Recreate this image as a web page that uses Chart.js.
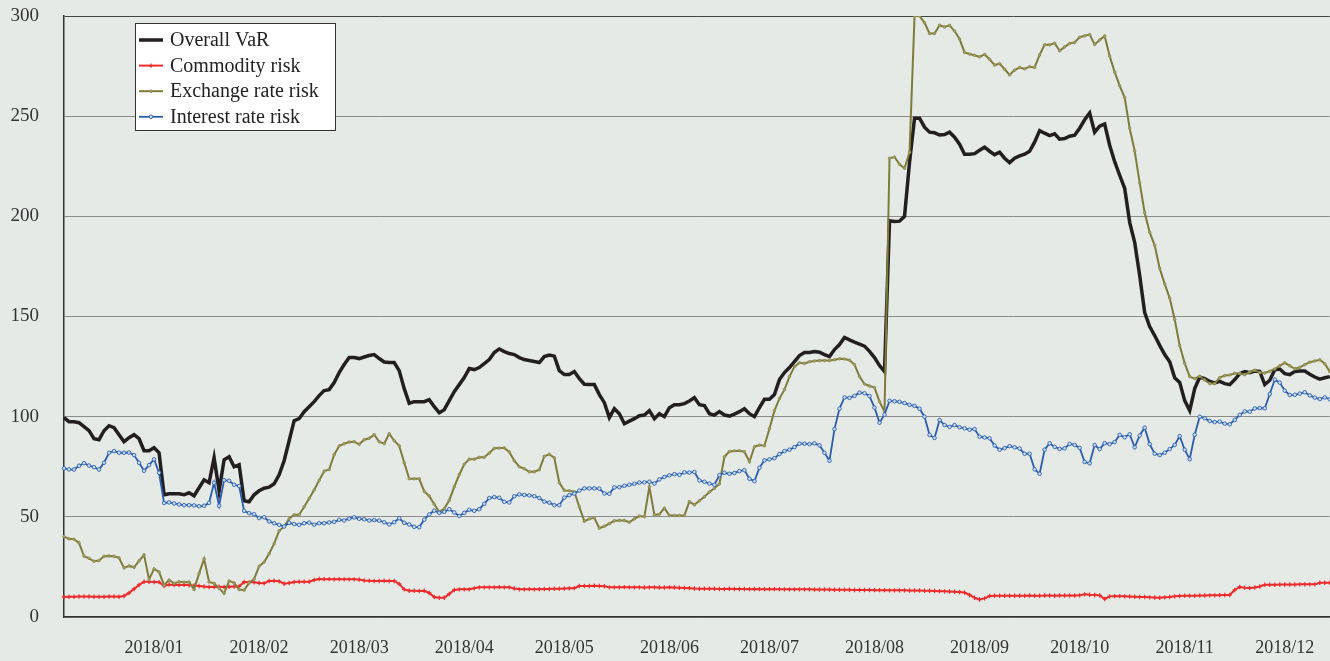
<!DOCTYPE html>
<html>
<head>
<meta charset="utf-8">
<title>VaR</title>
<script src="https://cdn.jsdelivr.net/npm/chart.js@4.4.1/dist/chart.umd.min.js"></script>
<style>
    html, body { margin: 0; padding: 0; background: #e5eae7; overflow: hidden; }
    /* a few px wider than the window: Chart.js keeps a small gap on the right */
    #wrap { position: relative; width: 1335px; height: 661px; }
</style>
</head>
<body>
<div id="wrap"><canvas id="varChart"></canvas></div>
<script>
// --- Data (daily, mid-Dec 2017 .. end of Dec 2018) ---
const monthLabels = ['2018/01', '2018/02', '2018/03', '2018/04', '2018/05', '2018/06',
                     '2018/07', '2018/08', '2018/09', '2018/10', '2018/11', '2018/12'];
// index of the point each month label sits under
const monthIndex = [18, 39, 59, 80, 100, 121, 141, 162, 183, 203, 224, 244];

const overallVaR = [
    99.5, 97.5, 97.5, 97, 95, 93, 89, 88.5, 93, 95.5,
    94.5, 91, 87.5, 89.5, 91, 89, 83, 83, 84.5, 82,
    61, 61.5, 61.5, 61.5, 61, 62, 60.5, 64.5, 68.5, 67,
    79.5, 63, 78.5, 80, 75, 76, 58, 57.5, 61, 63,
    64.3, 64.8, 66.5, 71, 78, 88, 98, 99, 102.5, 105,
    107.5, 110.5, 113, 113.5, 117, 122, 126, 129.5, 129.5, 129,
    129.8, 130.5, 131, 129, 127.3, 127, 127, 123, 114, 106.7,
    107.5, 107.5, 107.5, 108.5, 105, 102, 103.5, 108, 112.5, 116,
    119.5, 124, 123.5, 124.5, 126.5, 128.5, 132, 133.8, 132.5, 131.5,
    131, 129.5, 128.5, 128, 127.5, 127, 130, 130.8, 130.2, 123,
    121, 121, 122.5, 119, 116.2, 116, 116, 111, 107, 99.5,
    104, 101.5, 96.5, 97.8, 99, 100.5, 100.8, 103, 99, 101.5,
    100, 104.5, 106, 106, 106.5, 107.8, 109.5, 106, 105.5, 101.5,
    100.8, 102.5, 100.8, 100.3, 101.3, 102.5, 104, 101.5, 100, 104.5,
    108.7, 108.7, 111, 118.5, 122, 124.5, 127.5, 130.5, 132, 132,
    132.5, 132.2, 131, 130, 133.5, 136, 139.5, 138.3, 137.2, 136.2,
    135.2, 132.6, 129.5, 125.5, 122.5, 197.8, 197.4, 197.6, 200, 227,
    249, 249, 244.5, 242, 241.7, 240.6, 240.8, 242, 239.5, 236,
    231, 231, 231.3, 233, 234.5, 232.5, 230.8, 232, 229, 226.8,
    229, 230.2, 231, 232.5, 237, 242.8, 241.5, 240.3, 241.2, 238.5,
    238.8, 240, 240.5, 244, 248.2, 251.6, 242, 245, 246.1, 235.5,
    227.3, 220.5, 214, 197, 187, 170.5, 152, 145, 140.5, 135.6,
    131, 127.4, 119.4, 117.1, 108, 103, 114, 119.7, 119, 117.6,
    116.9, 117.6, 116.5, 116, 118.5, 121.5, 122.5, 122, 122.8, 122.6,
    116, 118.2, 123.4, 123.8, 121.5, 121, 122.5, 122.8, 122.8, 121.2,
    119.8, 118.7, 119.4, 120
];

const commodityRisk = [
    10, 10.1, 10.1, 10.2, 10.2, 10.2, 10.1, 10.1, 10.1, 10.2,
    10.2, 10.1, 10.5, 12, 14, 16, 17.6, 17.6, 17.5, 17.4,
    15.5, 16.2, 16, 16, 16.1, 15.8, 15.7, 15.5, 15.2, 15,
    15, 15.1, 15, 15.1, 15.2, 15.3, 17.5, 17.3, 17.3, 17,
    16.8, 18, 18.1, 17.8, 16.6, 17, 17.5, 17.6, 17.6, 17.6,
    18.5, 19, 18.9, 18.9, 18.8, 18.9, 18.8, 18.8, 18.8, 18.7,
    18.2, 18.1, 18, 18, 18.1, 18, 18, 16.5, 13.8, 13.1,
    13.1, 13, 13.1, 12, 10, 9.6, 9.6, 11.5, 13.5, 13.8,
    13.8, 13.8, 14.3, 14.8, 14.8, 14.8, 14.8, 14.9, 14.8, 14.8,
    14.2, 13.8, 13.8, 13.9, 13.8, 13.9, 14, 14, 14.1, 14.1,
    14.2, 14.3, 14.4, 15.5, 15.5, 15.5, 15.6, 15.5, 15.4, 14.8,
    14.8, 14.8, 14.9, 14.8, 14.8, 14.8, 14.7, 14.8, 14.8, 14.7,
    14.7, 14.8, 14.7, 14.6, 14.5, 14.4, 14.2, 14.1, 14.1, 14.1,
    14.1, 14, 14, 14.1, 14, 14, 14, 13.9, 14, 13.9,
    13.9, 13.9, 13.9, 13.9, 13.8, 13.8, 13.8, 13.8, 13.8, 13.8,
    13.7, 13.7, 13.7, 13.7, 13.6, 13.6, 13.6, 13.6, 13.5, 13.5,
    13.5, 13.5, 13.4, 13.4, 13.4, 13.3, 13.3, 13.3, 13.3, 13.2,
    13.2, 13.2, 13.1, 13.1, 13, 12.9, 12.8, 12.7, 12.6, 12.5,
    12.2, 11, 9.6, 8.7, 9.3, 10.5, 10.6, 10.6, 10.6, 10.6,
    10.6, 10.6, 10.6, 10.7, 10.6, 10.6, 10.7, 10.7, 10.6, 10.7,
    10.7, 10.7, 10.7, 10.8, 11.3, 11.1, 11, 10.8, 9, 10.3,
    10.4, 10.4, 10.3, 10.2, 10.1, 10, 10, 9.8, 9.7, 9.6,
    9.8, 10, 10.3, 10.5, 10.6, 10.6, 10.6, 10.7, 10.7, 10.8,
    10.8, 10.9, 11, 11, 13.5, 15, 14.6, 14.5, 14.7, 15.2,
    16.1, 16.1, 16.1, 16.2, 16.2, 16.2, 16.2, 16.3, 16.3, 16.3,
    16.3, 17.1, 17.1, 17.1
];

const exchangeRateRisk = [
    40.1, 39, 38.8, 37, 30.4, 29.3, 27.8, 28.2, 30.3, 30.5,
    30.3, 29.5, 24.5, 25.5, 24.8, 28, 31, 18.8, 24, 22.5,
    15.9, 18.5, 16.8, 17.6, 17.4, 17.5, 13.8, 21.8, 29, 17.5,
    16.8, 14.3, 11.8, 18, 17, 13.7, 13.4, 17, 19, 25.3,
    27.4, 31.6, 36.6, 43, 45.1, 49, 51, 51, 55, 59.2,
    63.4, 68.2, 72.8, 73.6, 81, 85.4, 86.5, 87.3, 87.5, 86.2,
    88.5, 89.2, 91, 87.5, 86.5, 91.5, 88, 85.5, 77, 69,
    69, 69, 62.7, 60.4, 56.3, 52.5, 54, 58.3, 65, 71,
    76.2, 78.8, 78.8, 79.7, 79.7, 81.8, 84.2, 84.3, 84.4, 82.4,
    78, 75, 74, 72.5, 72.5, 73.5, 80.2, 81.2, 79.5, 67,
    63.2, 63, 62.5, 55, 47.8, 49, 49.5, 44.3, 45.3, 46.6,
    48, 48.2, 48.2, 47.3, 49, 50.4, 50.1, 65, 51, 51.3,
    54.3, 50.7, 50.7, 50.7, 50.7, 57.6, 56, 58, 60, 62.4,
    64.3, 66.4, 80, 82.6, 82.9, 83, 82.5, 77.5, 85, 85.8,
    85.5, 94, 103, 109, 113.5, 120, 125, 126.9, 126.6, 127.4,
    127.8, 128, 128, 128, 128.4, 128.9, 128.8, 128.2, 126, 120,
    116.3, 115.3, 114.5, 107.5, 102.5, 229, 229.6, 226, 224, 232,
    300, 300, 296.6, 291.3, 291.3, 295.4, 294.5, 295.3, 292.5, 288.5,
    281.8, 281, 280.4, 279.6, 280.8, 278.4, 275.5, 276.2, 273.4, 270.6,
    273, 274.3, 273.6, 274.7, 274.3, 280.6, 285.6, 285.6, 286.4, 282.6,
    284.6, 286.3, 286.8, 289.4, 290.1, 290.7, 285.8, 288, 290, 280,
    272, 265.2, 259.3, 244, 232.7, 216.7, 201.8, 192, 185.5, 174,
    166.3, 159.2, 148.5, 135.5, 126.6, 120, 119, 120.2, 118.3, 116.5,
    116.5, 119.5, 120.5, 120.8, 121.7, 121.6, 121, 122.3, 123.2, 122,
    121.8, 122.7, 123.8, 125.4, 126.9, 125.4, 123.9, 124.6, 126, 127.2,
    127.8, 128.4, 126.4, 122.5
];

const interestRateRisk = [
    74.2, 73.7, 73.6, 75.5, 76.8, 75.6, 74.8, 73.6, 77, 82,
    82.8, 82, 82, 82.1, 80.8, 77, 73, 75.8, 78.7, 72,
    56.9, 57.2, 56.7, 56.2, 55.8, 55.8, 55.7, 55.3, 55.5, 57,
    67, 55.5, 68.3, 68, 66, 65.4, 53, 51.8, 51.3, 49.4,
    49.8, 47.7, 46.8, 46, 45.2, 47, 46.4, 46, 46.8, 47.1,
    46.1, 46.8, 46.8, 47.2, 47.5, 48.5, 48.2, 49.1, 49.7, 49,
    48.8, 48.2, 48.4, 48.1, 47.3, 46.2, 47.3, 49.3, 47, 46.2,
    45, 44.8, 48.6, 51.2, 53.1, 52, 52.5, 53.8, 52.2, 50.4,
    52, 53.5, 53, 53.8, 56.5, 59.4, 59.9, 59.5, 57.5, 57.2,
    60.3, 61.2, 60.9, 60.7, 60.3, 59.4, 57.6, 57.1, 55.8, 55.8,
    59.6, 60.8, 61.6, 63.1, 64.2, 64.2, 64.2, 64.1, 61.7, 61.5,
    64.7, 64.8, 65.5, 66, 66.5, 67.1, 67.2, 67.5, 66.6, 68.7,
    69.9, 70.7, 71.3, 71, 72.2, 72.1, 72.4, 68.2, 67.5, 66.6,
    66, 70.8, 72, 71.5, 71.9, 72.8, 73.3, 69, 67.8, 74.5,
    78.2, 78.7, 79.3, 81.3, 82.8, 83.5, 84.8, 86.5, 86.5, 86.3,
    86.7, 85.7, 82, 78, 93.8, 104, 109.6, 109.4, 110.4, 112,
    111.7, 110.3, 104.5, 97, 101, 107.9, 107.7, 107.4, 106.8, 105.9,
    105.4, 104, 100, 90.9, 89.4, 98.3, 95.8, 94.9, 95.8, 94.7,
    94.2, 93.5, 93.8, 90, 89.6, 89.2, 85.6, 83.5, 84.3, 85.3,
    84.7, 84.1, 81.5, 81.5, 73.7, 71.5, 83.5, 86.7, 84.9, 83.9,
    84.2, 86.4, 85.9, 84.4, 77.4, 76.7, 85.8, 83.8, 86.8, 86.3,
    87.3, 90.9, 89.7, 91.2, 84.7, 90.6, 94.5, 86.3, 81.5, 80.8,
    82, 83.8, 85.9, 90.3, 83.5, 78.8, 91, 100, 99.2, 97.8,
    97.3, 97.5, 96.5, 96.2, 98.4, 100.9, 102.6, 102.5, 104.1, 104.3,
    104.2, 111.3, 118.5, 117, 113, 110.8, 110.9, 111.5, 112.2, 110.6,
    109.5, 108.8, 109.6, 108.7
];

const yMin = 0, yMax = 300, yStep = 50;

document.addEventListener('DOMContentLoaded', function () {
    const serif = "'Liberation Serif', 'Times New Roman', serif";

    // one label per point, text only under the month positions
    const labels = overallVaR.map((_, i) => {
        const k = monthIndex.indexOf(i);
        return k >= 0 ? monthLabels[k] : '';
    });

    // --- legend box drawn on top of the plot ---
    const legendBox = {
        id: 'legendBox',
        afterDraw(chart) {
            const ctx = chart.ctx;
            const x0 = 135.5, y0 = 23.5, w = 200, h = 107;
            ctx.save();
            ctx.fillStyle = '#ffffff';
            ctx.fillRect(x0, y0, w, h);
            ctx.strokeStyle = '#333';
            ctx.lineWidth = 1;
            ctx.strokeRect(x0, y0, w, h);

            chart.data.datasets.forEach((ds, i) => {
                const y = 40 + i * 25.6;
                ctx.strokeStyle = ds.borderColor;
                ctx.lineWidth = ds.borderWidth;
                ctx.beginPath();
                ctx.moveTo(139, y);
                ctx.lineTo(163, y);
                ctx.stroke();
                if (ds.pointRadius > 0) {
                    ctx.fillStyle = ds.pointBackgroundColor;
                    ctx.strokeStyle = ds.pointBorderColor;
                    ctx.lineWidth = ds.pointBorderWidth;
                    Chart.helpers.drawPoint(ctx, {
                        pointStyle: ds.pointStyle, radius: ds.pointRadius,
                        borderWidth: ds.pointBorderWidth, rotation: 0
                    }, 151, y);
                }
                ctx.fillStyle = '#222';
                ctx.font = '20px ' + serif;
                ctx.textBaseline = 'middle';
                ctx.fillText(ds.label, 170, y + 1);
            });
            ctx.restore();
        }
    };

    new Chart(document.getElementById('varChart'), {
        type: 'line',
        data: {
            labels: labels,
            datasets: [
                {
                    label: 'Overall VaR', data: overallVaR,
                    borderColor: '#231f20', borderWidth: 3.5,
                    pointRadius: 0, order: 4
                },
                {
                    label: 'Commodity risk', data: commodityRisk,
                    borderColor: '#ee2b2b', borderWidth: 2,
                    pointStyle: 'cross', pointRadius: 2.2, pointBorderWidth: 1.2,
                    pointBorderColor: '#ee2b2b', pointBackgroundColor: '#ee2b2b', order: 3
                },
                {
                    label: 'Exchange rate risk', data: exchangeRateRisk,
                    borderColor: '#7f7b3a', borderWidth: 2,
                    pointStyle: 'circle', pointRadius: 1.3, pointBorderWidth: 0.8,
                    pointBorderColor: '#8d8a4e', pointBackgroundColor: '#a5a26a', order: 2
                },
                {
                    label: 'Interest rate risk', data: interestRateRisk,
                    borderColor: '#2b5cae', borderWidth: 1.8,
                    pointStyle: 'circle', pointRadius: 1.8, pointBorderWidth: 0.9,
                    pointBorderColor: '#2f62b3', pointBackgroundColor: '#c9dcee', order: 1
                }
            ]
        },
        options: {
            responsive: true,
            maintainAspectRatio: false,
            animation: false,
            layout: { padding: { top: 16, right: 0, left: 0, bottom: 0 } },
            plugins: {
                legend: { display: false },
                tooltip: { enabled: false }
            },
            elements: { line: { tension: 0 } },
            scales: {
                x: {
                    type: 'category',
                    afterFit: (scale) => {
                        scale.height = 44;
                        scale.paddingLeft = 0;
                        scale.paddingRight = 0;
                    },
                    grid: { display: false, drawTicks: false },
                    border: { display: true, color: '#333', width: 1.5 },
                    ticks: {
                        autoSkip: false, maxRotation: 0, padding: 20,
                        color: '#333', font: { family: serif, size: 18 }
                    }
                },
                y: {
                    min: yMin, max: yMax,
                    afterFit: (scale) => {
                        scale.width = 64;
                        scale.paddingTop = 0;
                        scale.paddingBottom = 0;
                    },
                    grid: {
                        drawTicks: false,
                        color: (c) => c.tick && c.tick.value === yMax ? '#444' : '#8c8c8c',
                        lineWidth: 1
                    },
                    border: { display: true, color: '#333', width: 1.5 },
                    ticks: {
                        stepSize: yStep, padding: 25,
                        color: '#333', font: { family: serif, size: 19 }
                    }
                }
            }
        },
        plugins: [legendBox]
    });
});
</script>
</body>
</html>
